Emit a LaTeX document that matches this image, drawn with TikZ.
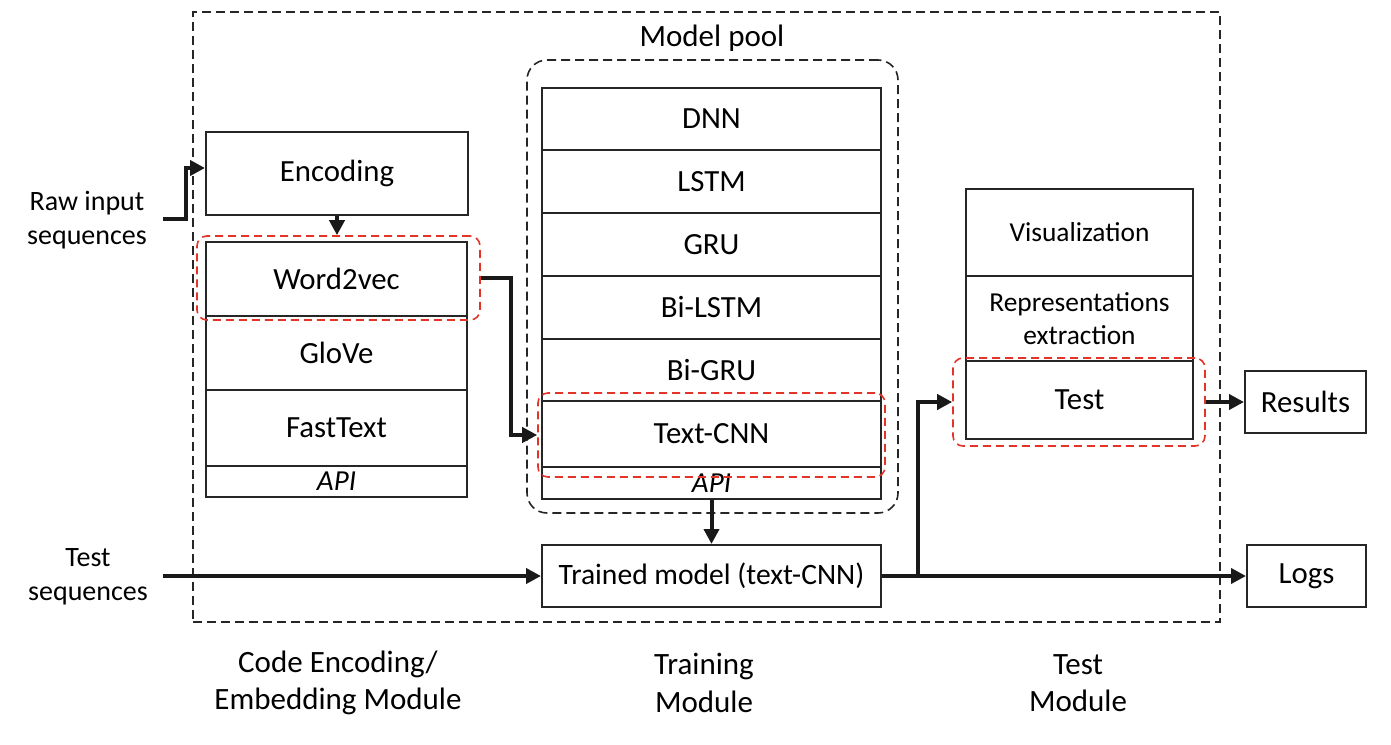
\documentclass[tikz,border=0pt]{standalone}
\usepackage{fontspec}
\setmainfont{Carlito}
\usetikzlibrary{arrows.meta,calc}
\definecolor{dred}{RGB}{228,52,40}
\begin{document}
\begin{tikzpicture}[x=0.5pt,y=-0.5pt,
  box/.style={draw=black!85,line width=1pt,inner sep=0pt,font=\fontsize{15.4}{18}\selectfont,align=center},
  apibox/.style={box,font=\fontsize{14.5}{17}\selectfont\itshape},
  tbox/.style={box,font=\fontsize{13.7}{16.5}\selectfont},
  reddash/.style={draw=dred,line width=0.8pt,dash pattern=on 4pt off 2.5pt,rounded corners=5pt,inner sep=0pt},
  blackdash/.style={draw=black!85,line width=0.8pt,dash pattern=on 4.5pt off 2.5pt,inner sep=0pt},
  arr/.style={line width=2pt,draw=black!90,-{Triangle[length=7.5pt,width=7.5pt]}},
  side/.style={font=\fontsize{14}{17}\selectfont,align=center},
  bottom/.style={font=\fontsize{15.5}{18.8}\selectfont,align=center}]
\useasboundingbox (0,0) rectangle (1391,744);
% outer frame
\node[blackdash,minimum width=513.5pt,minimum height=305pt] (frame) at (706.5,317) {};
\node[font=\fontsize{15.5}{18}\selectfont] (pooltitle) at (712,38) {Model pool};
\node[blackdash,rounded corners=10pt,minimum width=185.5pt,minimum height=226.5pt] (pool) at (712.5,286.5) {};
% encoding module
\node[box,minimum width=131pt,minimum height=41.5pt] (enc) at (337,173.5) {Encoding};
\node[box,minimum width=130.5pt,minimum height=37pt] (w2v) at (336.5,279) {Word2vec};
\node[box,minimum width=130.5pt,minimum height=37pt] (glove) at (336.5,353) {GloVe};
\node[box,minimum width=130.5pt,minimum height=38pt] (fast) at (336.5,428) {FastText};
\node[apibox,minimum width=130.5pt,minimum height=15.5pt] (eapi) at (336.5,481.5) {API};
\node[reddash,minimum width=141.5pt,minimum height=42pt] (w2vred) at (338.5,278) {};
% model stack
\node[box,minimum width=169.5pt,minimum height=31pt] (dnn) at (711.5,119) {DNN};
\node[box,minimum width=169.5pt,minimum height=31.5pt] (lstm) at (711.5,181.5) {LSTM};
\node[box,minimum width=169.5pt,minimum height=31.5pt] (gru) at (711.5,244.5) {GRU};
\node[box,minimum width=169.5pt,minimum height=31.5pt] (bilstm) at (711.5,307.5) {Bi-LSTM};
\node[box,minimum width=169.5pt,minimum height=31pt] (bigru) at (711.5,370) {Bi-GRU};
\node[box,minimum width=169.5pt,minimum height=33pt] (cnn) at (711.5,434) {Text-CNN};
\node[apibox,minimum width=169.5pt,minimum height=16pt] (mapi) at (711.5,483) {API};
\node[reddash,minimum width=173.5pt,minimum height=42pt] (cnnred) at (711.5,435) {};
\node[box,font=\fontsize{14.8}{17.5}\selectfont,minimum width=169.5pt,minimum height=31pt] (trained) at (711.5,576) {Trained model (text-CNN)};
% test module
\node[tbox,minimum width=113.5pt,minimum height=43.5pt] (vis) at (1079.5,232.5) {Visualization};
\node[tbox,minimum width=113.5pt,minimum height=42.5pt] (rep) at (1079.5,318.5) {Representations\\extraction};
\node[box,minimum width=113.5pt,minimum height=39pt] (test) at (1079.5,400) {Test};
\node[reddash,minimum width=126pt,minimum height=44pt] (testred) at (1079,402) {};
\node[box,minimum width=60.5pt,minimum height=31pt] (results) at (1305.5,402) {Results};
\node[box,minimum width=59.5pt,minimum height=31pt] (logs) at (1306.5,576) {Logs};
% side labels
\node[side] (raw) at (87,220) {Raw input\\sequences};
\node[side] (tseq) at (88,577) {Test\\sequences};
\coordinate (rawstart) at (163,219);
\coordinate (tstart) at (163,576);
% bottom labels
\node[bottom] (lab1) at (338,683) {Code Encoding/\\Embedding Module};
\node[bottom] (lab2) at (704,683) {Training\\Module};
\node[bottom] (lab3) at (1078,683) {Test\\Module};
% connectors
\draw[arr] (rawstart) -- (186,219) |- ([yshift=2.75pt]enc.west);
\draw[arr] (enc.south) -- (enc.south |- w2vred.north);
\draw[arr] (w2vred.east) -- ++(15pt,0) |- (cnnred.west);
\draw[arr] (mapi.south) -- (trained.north);
\draw[arr] (tstart) -- (trained.west);
\draw[arr] (trained.east) -- (logs.west);
\draw[arr] ([xshift=18pt]trained.east) |- (testred.west);
\draw[arr] (testred.east) -- (results.west);
\end{tikzpicture}
\end{document}
